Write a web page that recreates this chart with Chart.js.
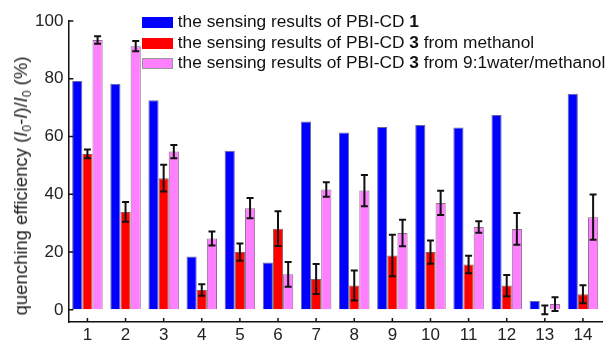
<!DOCTYPE html>
<html>
<head>
<meta charset="utf-8">
<script src="https://cdn.jsdelivr.net/npm/chart.js@4.4.1/dist/chart.umd.min.js"></script>
<style>
  html, body { margin: 0; padding: 0; background: #fff; }
  #wrap { position: relative; width: 608px; height: 344px; overflow: hidden; font-family: "Liberation Sans", Arial, sans-serif; }
  #c { position: absolute; left: 0; top: 0; }
  #ytitle { position: absolute; left: 21px; top: 186px; transform: translate(-50%, -50%) rotate(-90deg); white-space: nowrap; font-size: 18.5px; color: #222; }
  #ytitle sub { font-size: 12px; vertical-align: -4px; line-height: 0; }
  .lg { position: absolute; left: 142px; height: 20px; line-height: 20px; white-space: nowrap; font-size: 17.3px; color: #111; }
  .lg span.box { display: inline-block; width: 31px; height: 11px; margin-right: 0px; box-sizing: border-box; vertical-align: -1px; }
</style>
</head>
<body>
<div id="wrap">
  <canvas id="c" width="608" height="344"></canvas>
  <div id="ytitle">quenching efficiency (<i>I</i><sub>0</sub>-<i>I</i>)/<i>I</i><sub>0</sub> (%)</div>
  <div id="legend"></div>
</div>
<script>
// ---- data ----
const categories = ['1','2','3','4','5','6','7','8','9','10','11','12','13','14'];
const seriesNames = [
  ['the sensing results of PBI-CD ', '1', ''],
  ['the sensing results of PBI-CD ', '3', ' from methanol'],
  ['the sensing results of PBI-CD ', '3', ' from 9:1water/methanol']
];
const pbi1 = [79.2, 78.3, 72.6, 18.5, 55.1, 16.4, 65.2, 61.4, 63.3, 64.0, 63.1, 67.5, 3.1, 74.8];
const pbi3Methanol = [54.0, 33.9, 45.6, 6.9, 20.0, 28.1, 10.7, 8.4, 18.8, 20.0, 15.7, 8.4, 0.0, 5.4];
const pbi3Water = [93.4, 91.3, 54.8, 24.7, 35.2, 12.3, 41.7, 41.3, 26.6, 37.0, 28.7, 28.0, 2.0, 32.1];
const errMethanol = [1.5, 3.4, 4.6, 2.0, 3.0, 6.0, 5.2, 5.2, 7.2, 4.0, 3.0, 3.7, 1.5, 3.1];
const errWater = [1.3, 1.8, 2.3, 2.4, 3.5, 4.3, 2.5, 5.4, 4.6, 4.2, 2.0, 5.5, 2.4, 7.8];
const yTicks = [0, 20, 40, 60, 80, 100];

const colors = ['#0000ff', '#ff0000', '#ff80ff'];
const borders = ['rgba(40,40,120,0.7)', 'rgba(110,20,20,0.7)', 'rgba(120,70,120,0.8)'];

// legend (HTML, mixed bold)
const lg = document.getElementById('legend');
const legendTops = [11, 32, 52];
seriesNames.forEach((parts, i) => {
  const d = document.createElement('div');
  d.className = 'lg';
  d.style.top = legendTops[i] + 'px';
  d.innerHTML = '<span class="box" style="background:' + colors[i] + ';border:1px solid ' + (i === 2 ? '#999' : colors[i]) + '"></span> ' +
    parts[0] + '<b>' + parts[1] + '</b>' + parts[2];
  lg.appendChild(d);
});

const errorBars = {
  id: 'errorBars',
  afterDatasetsDraw(chart) {
    const ctx = chart.ctx;
    const y = chart.scales.y;
    ctx.save();
    ctx.strokeStyle = '#111';
    ctx.lineWidth = 2;
    chart.data.datasets.forEach((ds, di) => {
      if (!ds.errors) return;
      const meta = chart.getDatasetMeta(di);
      meta.data.forEach((bar, i) => {
        const v = ds.data[i], e = ds.errors[i];
        const x = bar.x;
        const yt = y.getPixelForValue(v + e), yb = Math.min(y.getPixelForValue(v - e), chart.chartArea.bottom);
        ctx.beginPath();
        ctx.moveTo(x, yt); ctx.lineTo(x, yb);
        ctx.moveTo(x - 3.5, yt); ctx.lineTo(x + 3.5, yt);
        if (yb < chart.chartArea.bottom) { ctx.moveTo(x - 3.5, yb); ctx.lineTo(x + 3.5, yb); }
        ctx.stroke();
      });
    });
    ctx.restore();
  }
};

const innerTicks = {
  id: 'innerTicks',
  afterDraw(chart) {
    const ctx = chart.ctx;
    const xs = chart.scales.x, ys = chart.scales.y;
    const a = chart.chartArea;
    ctx.save();
    ctx.strokeStyle = '#111';
    ctx.lineWidth = 1.5;
    ctx.beginPath();
    yTicks.forEach(t => {
      const py = ys.getPixelForValue(t);
      ctx.moveTo(a.left, py); ctx.lineTo(a.left + 5, py);
    });
    categories.forEach((c, i) => {
      const px = xs.getPixelForTick(i);
      ctx.moveTo(px, a.bottom); ctx.lineTo(px, a.bottom - 4);
    });
    ctx.stroke();
    ctx.restore();
  }
};

new Chart(document.getElementById('c'), {
  type: 'bar',
  data: {
    labels: categories,
    datasets: [
      { label: seriesNames[0].join(''), data: pbi1, backgroundColor: colors[0], borderColor: borders[0], borderWidth: 1 },
      { label: seriesNames[1].join(''), data: pbi3Methanol, errors: errMethanol, backgroundColor: colors[1], borderColor: borders[1], borderWidth: 1 },
      { label: seriesNames[2].join(''), data: pbi3Water, errors: errWater, backgroundColor: colors[2], borderColor: borders[2], borderWidth: 1 }
    ]
  },
  options: {
    responsive: false,
    animation: false,
    devicePixelRatio: 1,
    layout: { padding: { left: 30, right: 6, top: 21, bottom: -5 } },
    datasets: { bar: { categoryPercentage: 0.8, barPercentage: 1.0, base: 0 } },
    plugins: { legend: { display: false }, tooltip: { enabled: false } },
    scales: {
      x: {
        offset: true,
        grid: { display: true, drawOnChartArea: false, drawTicks: false },
        border: { display: true, color: '#111', width: 1.5 },
        ticks: { color: '#222', padding: 5, font: { family: 'Liberation Sans, Arial, sans-serif', size: 17, lineHeight: 1 } }
      },
      y: {
        min: -4.2, max: 100,
        grid: { display: true, drawOnChartArea: false, drawTicks: false },
        border: { display: true, color: '#111', width: 1.5 },
        afterBuildTicks(scale) { scale.ticks = yTicks.map(v => ({ value: v })); },
        ticks: { color: '#222', padding: 5, font: { family: 'Liberation Sans, Arial, sans-serif', size: 17 } }
      }
    }
  },
  plugins: [errorBars, innerTicks]
});
</script>
</body>
</html>
